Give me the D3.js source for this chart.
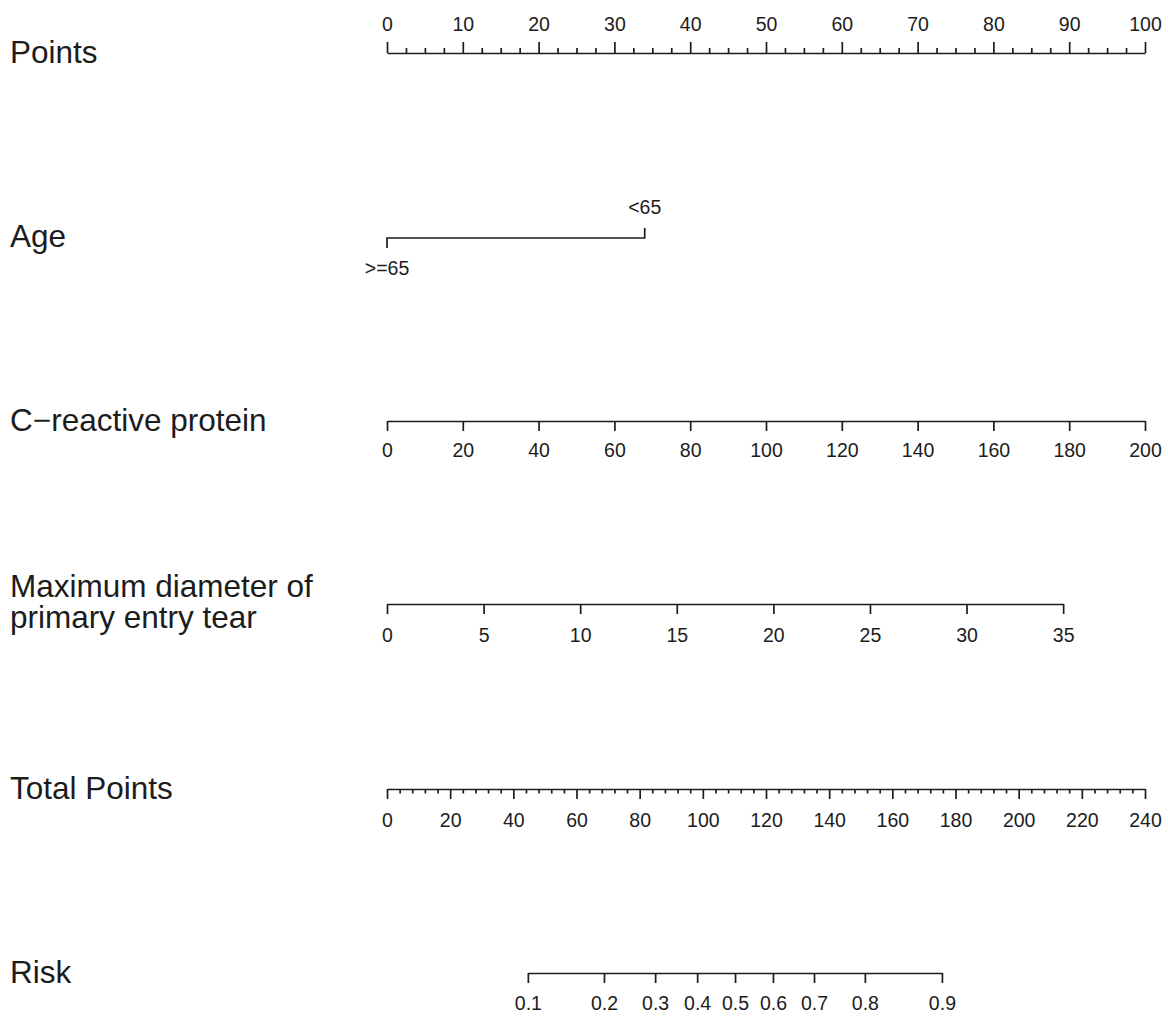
<!DOCTYPE html>
<html>
<head>
<meta charset="utf-8">
<script src="https://cdn.jsdelivr.net/npm/d3@7"></script>
<style>
  html, body { margin: 0; padding: 0; background: #fff; }
  svg { display: block; }
</style>
</head>
<body>
<svg id="chart" width="1168" height="1018"></svg>
<script>
// ---------- data ----------
const rowLabels = ["Points", "Age", "C\u2212reactive protein", "Maximum diameter of\nprimary entry tear", "Total Points", "Risk"];

const pointsTicks = [0, 10, 20, 30, 40, 50, 60, 70, 80, 90, 100];
const pointsMinorTicks = [2.5, 5, 7.5, 12.5, 15, 17.5, 22.5, 25, 27.5, 32.5, 35, 37.5, 42.5, 45, 47.5,
  52.5, 55, 57.5, 62.5, 65, 67.5, 72.5, 75, 77.5, 82.5, 85, 87.5, 92.5, 95, 97.5];

const ageLevels = [">=65", "<65"];
const agePoints = [0, 34];

const crpTicks = [0, 20, 40, 60, 80, 100, 120, 140, 160, 180, 200];
const crpRange = [0, 200];
const crpPointsRange = [0, 100];

const diameterTicks = [0, 5, 10, 15, 20, 25, 30, 35];
const diameterRange = [0, 35];
const diameterPointsRange = [0, 89.2];

const totalTicks = [0, 20, 40, 60, 80, 100, 120, 140, 160, 180, 200, 220, 240];
const totalMinorTicks = [4, 8, 12, 16, 24, 28, 32, 36, 44, 48, 52, 56, 64, 68, 72, 76, 84, 88, 92, 96,
  104, 108, 112, 116, 124, 128, 132, 136, 144, 148, 152, 156, 164, 168, 172, 176, 184, 188, 192, 196,
  204, 208, 212, 216, 224, 228, 232, 236];

const riskTicks = [0.1, 0.2, 0.3, 0.4, 0.5, 0.6, 0.7, 0.8, 0.9];
const riskTotalPoints = [44.6, 68.7, 84.9, 98.2, 110.2, 122.2, 135.2, 151.3, 175.7];

// ---------- layout ----------
const X0 = 387, X1 = 1145;
const rowY = [53, 238, 421, 604, 789, 973];
const FONT = "'Liberation Sans', Arial, Helvetica, sans-serif";
const INK = "#1c1c1c";
const SW = 1.7;

const svg = d3.select("#chart");

const pointsX = d3.scaleLinear().domain([0, 100]).range([X0, X1]);
const totalX = d3.scaleLinear().domain([0, 240]).range([X0, X1]);
const crpX = d3.scaleLinear().domain(crpRange).range(crpPointsRange.map(pointsX));
const diamX = d3.scaleLinear().domain(diameterRange).range(diameterPointsRange.map(pointsX));
const riskX = d3.scaleLinear().domain(riskTicks).range(riskTotalPoints.map(totalX));

// ---------- row labels ----------
const labelBase = [63, 247, 431, 597, 799, 983];
rowLabels.forEach((lab, i) => {
  const lines = lab.split("\n");
  const t = svg.append("text")
    .attr("x", 10)
    .attr("y", labelBase[i])
    .attr("font-family", FONT)
    .attr("font-size", 31.5)
    .attr("fill", INK);
  lines.forEach((ln, j) => {
    t.append("tspan").attr("x", 10).attr("y", labelBase[i] + j * 30.5).text(ln);
  });
});

function styleAxis(g, labelY, fontSize) {
  g.attr("color", INK);
  g.selectAll(".domain").attr("stroke-width", SW);
  g.selectAll(".tick line").attr("stroke-width", SW);
  g.selectAll(".tick text")
    .attr("font-family", FONT)
    .attr("font-size", fontSize)
    .attr("y", labelY)
    .attr("dy", null);
}

function minorAxis(gen, scale, vals, size, y) {
  const g = svg.append("g").attr("transform", `translate(0,${y})`)
    .call(gen(scale).tickValues(vals).tickSize(size).tickFormat(""));
  g.attr("color", INK);
  g.select(".domain").remove();
  g.selectAll(".tick line").attr("stroke-width", SW);
}

const TF = 19.5;

// Points axis (top)
{
  const y = rowY[0];
  minorAxis(d3.axisTop, pointsX, pointsMinorTicks, 5, y);
  const g = svg.append("g").attr("transform", `translate(0,${y})`)
    .call(d3.axisTop(pointsX).tickValues(pointsTicks).tickSize(11).tickSizeOuter(0).tickFormat(d3.format("d")));
  styleAxis(g, -22.5, TF);
}

// Age
{
  const y = rowY[1];
  const xa = agePoints.map(pointsX);
  svg.append("path")
    .attr("d", `M${xa[0]},${y + 10}V${y}H${xa[1]}V${y - 10}`)
    .attr("fill", "none").attr("stroke", INK).attr("stroke-width", SW);
  svg.append("text").attr("x", xa[0]).attr("y", y + 37)
    .attr("text-anchor", "middle").attr("font-family", FONT).attr("font-size", TF).attr("fill", INK)
    .text(ageLevels[0]);
  svg.append("text").attr("x", xa[1]).attr("y", y - 24)
    .attr("text-anchor", "middle").attr("font-family", FONT).attr("font-size", TF).attr("fill", INK)
    .text(ageLevels[1]);
}

// C-reactive protein
{
  const g = svg.append("g").attr("transform", `translate(0,${rowY[2]})`)
    .call(d3.axisBottom(crpX).tickValues(crpTicks).tickSize(10).tickSizeOuter(0).tickFormat(d3.format("d")));
  styleAxis(g, 36, TF);
}

// Maximum diameter
{
  const g = svg.append("g").attr("transform", `translate(0,${rowY[3]})`)
    .call(d3.axisBottom(diamX).tickValues(diameterTicks).tickSize(10).tickSizeOuter(0).tickFormat(d3.format("d")));
  styleAxis(g, 38, TF);
}

// Total points
{
  const y = rowY[4];
  minorAxis(d3.axisBottom, totalX, totalMinorTicks, 4.5, y);
  const g = svg.append("g").attr("transform", `translate(0,${y})`)
    .call(d3.axisBottom(totalX).tickValues(totalTicks).tickSize(10).tickSizeOuter(0).tickFormat(d3.format("d")));
  styleAxis(g, 38, TF);
}

// Risk
{
  const g = svg.append("g").attr("transform", `translate(0,${rowY[5]})`)
    .call(d3.axisBottom(riskX).tickValues(riskTicks).tickSize(10).tickSizeOuter(0).tickFormat(d3.format(".1f")));
  styleAxis(g, 37, TF);
}
</script>
</body>
</html>
